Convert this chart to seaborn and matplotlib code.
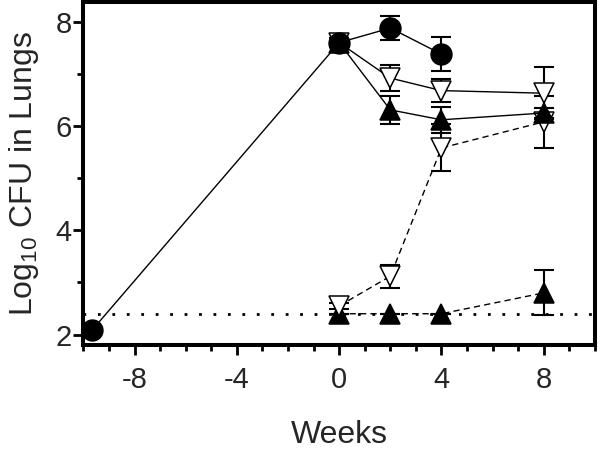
import numpy as np
import pandas as pd
import matplotlib
matplotlib.use('Agg')
import matplotlib.pyplot as plt
import seaborn as sns
from matplotlib.ticker import MultipleLocator

# values (weeks, log10 CFU, error)
circle_x = [-9.67, 0, 2, 4]
circle_y = [2.08, 7.6, 7.88, 7.38]
circle_err = [0.05, 0.08, 0.23, 0.33]

open_solid_x = [0, 2, 4, 8]
open_solid_y = [7.6, 6.92, 6.68, 6.63]
open_solid_err = [0.08, 0.25, 0.22, 0.5]

filled_solid_x = [0, 2, 4, 8]
filled_solid_y = [7.6, 6.31, 6.12, 6.25]
filled_solid_err = [0.08, 0.27, 0.25, 0.1]

open_dash_x = [0, 2, 4, 8]
open_dash_y = [2.55, 3.12, 5.58, 6.08]
open_dash_err = [0.05, 0.22, 0.45, 0.5]

filled_dash_x = [0, 2, 4, 8]
filled_dash_y = [2.4, 2.4, 2.4, 2.8]
filled_dash_err = [0.0, 0.0, 0.0, 0.43]

detection_limit = 2.4

sns.set_style('ticks')
plt.rcParams['font.family'] = ['Liberation Sans', 'DejaVu Sans']
plt.rcParams['axes.unicode_minus'] = False
plt.rcParams['mathtext.fontset'] = 'custom'
plt.rcParams['mathtext.rm'] = 'Liberation Sans'

fig = plt.figure(figsize=(6, 4.49), dpi=100)
ax = fig.add_axes([0.139, 0.2316, 0.8525, 0.764])

ax.axhline(detection_limit, color='black', lw=2, ls=(0, (1, 4.2)), zorder=1)

series = [
    (filled_dash_x, filled_dash_y, filled_dash_err, '^', 'black', (0, (4.5, 3)), 14),
    (open_dash_x, open_dash_y, open_dash_err, 'v', 'white', (0, (4.5, 3)), 14),
    (open_solid_x, open_solid_y, open_solid_err, 'v', 'white', '-', 14),
    (filled_solid_x, filled_solid_y, filled_solid_err, '^', 'black', '-', 14),
    (circle_x, circle_y, circle_err, 'o', 'black', '-', 15),
]

z = 3
for xs, ys, errs, mk, fc, ls, ms in series:
    ax.errorbar(xs, ys, yerr=errs, fmt='none', ecolor='black', elinewidth=1.5,
                capsize=7.5, capthick=1.5, zorder=z)
    df = pd.DataFrame({'x': xs, 'y': ys})
    sns.lineplot(data=df, x='x', y='y', ax=ax, color='black', linewidth=1.0,
                 linestyle=ls, marker=mk, markersize=ms, markerfacecolor=fc,
                 markeredgecolor='black', markeredgewidth=1.1, zorder=z + 1)
    z += 2

ax.set_xlim(-10, 10)
ax.set_ylim(1.8, 8.38)
ax.xaxis.set_major_locator(MultipleLocator(4))
ax.xaxis.set_minor_locator(MultipleLocator(1))
ax.yaxis.set_major_locator(MultipleLocator(2))
ax.yaxis.set_minor_locator(MultipleLocator(1))
ax.set_xticks([-8, -4, 0, 4, 8])

for s in ax.spines.values():
    s.set_linewidth(2.9)
    s.set_color('black')

ax.tick_params(which='major', length=7, width=2, labelsize=21, color='black')
ax.tick_params(which='minor', length=4.5, width=2, color='black')
ax.tick_params(axis='x', which='major', pad=8)
ax.tick_params(axis='y', which='major', pad=1.5)

ax.set_xlabel('Weeks', fontsize=23, labelpad=19)
ax.set_ylabel('Log$_{10}$ CFU in Lungs', fontsize=23, labelpad=10)

fig.savefig('out.png', dpi=100)
